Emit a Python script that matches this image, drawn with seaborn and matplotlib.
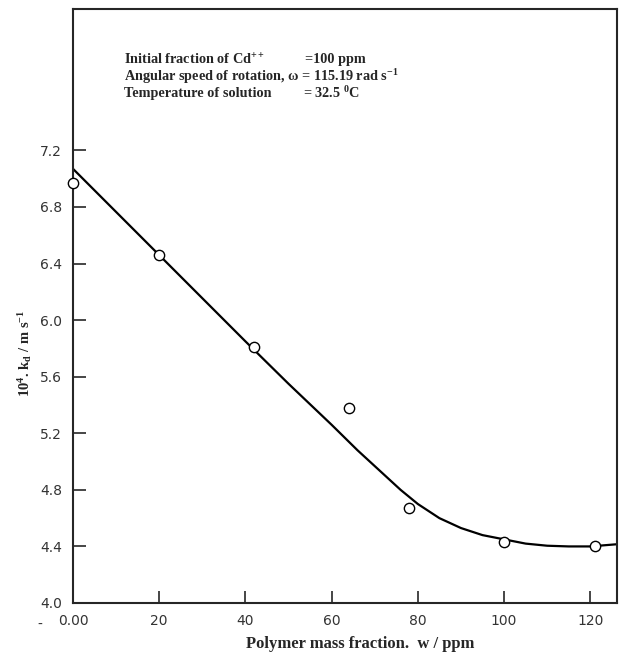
import numpy as np
import pandas as pd
import matplotlib
matplotlib.use("Agg")
import matplotlib.pyplot as plt
import seaborn as sns

# measured points
w_ppm = [0, 20, 42, 64, 78, 100, 121]
kd = [6.97, 6.46, 5.81, 5.38, 4.67, 4.43, 4.40]

# hand-drawn trend curve
curve_w = [0, 20, 40, 50, 60, 66, 71, 76, 80, 85, 90, 95, 100, 105, 110, 115, 120, 126]
curve_kd = [7.07, 6.46, 5.85, 5.55, 5.26, 5.08, 4.94, 4.80, 4.70, 4.60, 4.53, 4.48,
            4.45, 4.42, 4.405, 4.40, 4.40, 4.415]

x_ticks = [0, 20, 40, 60, 80, 100, 120]
x_ticklabels = ['0.00', '20', '40', '60', '80', '100', '120']
y_ticks = [4.0, 4.4, 4.8, 5.2, 5.6, 6.0, 6.4, 6.8, 7.2]

sns.set_style("ticks")
plt.rcParams['mathtext.fontset'] = 'custom'
plt.rcParams['mathtext.rm'] = 'Liberation Serif:bold'
plt.rcParams['mathtext.it'] = 'Liberation Serif:bold'
plt.rcParams['mathtext.default'] = 'regular'

pts = pd.DataFrame({'w': w_ppm, 'kd': kd})
crv = pd.DataFrame({'w': curve_w, 'kd': curve_kd})

fig = plt.figure(figsize=(6.23, 6.52), dpi=100)
ax = fig.add_axes([73 / 623, 1 - 603 / 652, 544 / 623, 594 / 652])

sns.lineplot(data=crv, x='w', y='kd', ax=ax, color='black', linewidth=1.6,
             sort=False, zorder=2)
sns.scatterplot(data=pts, x='w', y='kd', ax=ax, marker='o', s=55,
                facecolor='white', edgecolor='black', linewidth=1.0, zorder=3,
                clip_on=False)

ax.set_xlim(0, 126.2)
ax.set_ylim(4.0, 8.2)
ax.set_xticks(x_ticks)
ax.set_xticklabels(x_ticklabels)
ax.set_yticks(y_ticks)
ax.set_yticklabels([f'{v:.1f}' for v in y_ticks])
ax.tick_params(direction='in', length=9, width=1.2, labelsize=10,
               labelcolor='#333333', pad=8)
for s in ax.spines.values():
    s.set_visible(True)
    s.set_linewidth(1.5)

ax.set_xlabel('Polymer mass fraction.  w / ppm', fontfamily='Liberation Serif',
              fontweight='bold', fontsize=12)
ax.xaxis.set_label_coords(0.528, -0.056)
ax.set_ylabel(r'10$^4$. k$_d$ / m s$^{-1}$', fontfamily='Liberation Serif',
              fontweight='bold', fontsize=10.5)
ax.yaxis.set_label_coords(-0.072, 0.42)

tkw = dict(transform=fig.transFigure, fontfamily='Liberation Serif',
           fontweight='bold', fontsize=10.3, va='center')
fig.text(124 / 623, 1 - 60 / 652, r'Initial fraction of Cd$^{++}$', **tkw)
fig.text(305 / 623, 1 - 60 / 652, '=100 ppm', **tkw)
fig.text(124 / 623, 1 - 77 / 652, r'Angular speed of rotation, $\omega$ = 115.19 rad s$^{-1}$', **tkw)
fig.text(124 / 623, 1 - 93 / 652, 'Temperature of solution', **tkw)
fig.text(303 / 623, 1 - 93 / 652, r'= 32.5 $^0$C', **tkw)
fig.text(40 / 623, 1 - 625 / 652, '-', fontsize=10, color='#333333', ha='center', va='center')

fig.savefig('out.png', dpi=100)
